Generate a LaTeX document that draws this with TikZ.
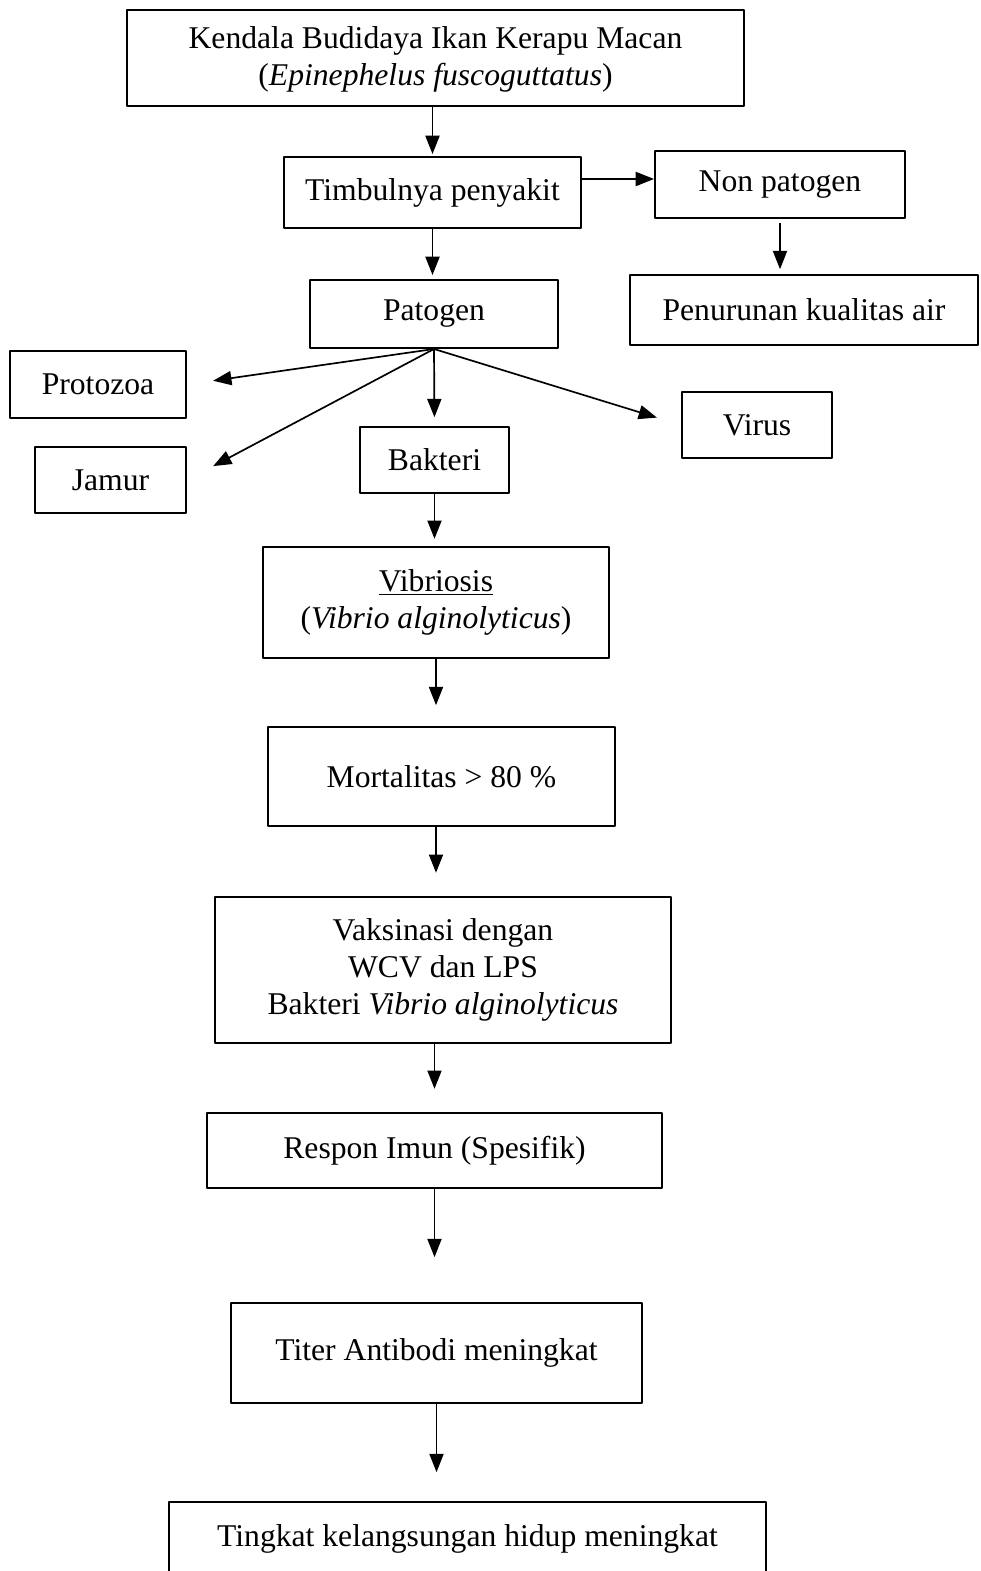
\documentclass[tikz,border=0pt]{standalone}
\usepackage{fontspec}
\setmainfont{Liberation Serif}
\usetikzlibrary{arrows.meta}
\tikzset{box/.style={draw, line width=1.4pt, align=center, inner sep=0pt}}
\begin{document}
\begin{tikzpicture}[x=0.025cm, y=-0.025cm, font=\fontsize{22.5}{26.5}\selectfont, line join=round, >={Triangle[length=13pt,width=10pt]}]
\useasboundingbox (0,0) rectangle (980,1571);
\node[box, minimum width=15.425cm, minimum height=2.4cm, text depth=0.1cm] (kendala) at (435.5,58) {Kendala Budidaya Ikan Kerapu Macan\\(\textit{Epinephelus fuscoguttatus})};
\node[box, minimum width=7.425cm, minimum height=1.775cm] (timbul) at (432.5,192.5) {Timbulnya penyakit};
\node[box, minimum width=6.25cm, minimum height=1.675cm] (nonpat) at (780,184.5) {Non patogen};
\node[box, minimum width=6.2cm, minimum height=1.7cm] (patogen) at (434,314) {Patogen};
\node[box, minimum width=8.675cm, minimum height=1.75cm] (penurunan) at (804,310) {Penurunan kualitas air};
\node[box, minimum width=4.4cm, minimum height=1.675cm] (protozoa) at (98,384.5) {Protozoa};
\node[box, minimum width=3.775cm, minimum height=1.65cm] (jamur) at (110.5,480) {Jamur};
\node[box, minimum width=3.725cm, minimum height=1.65cm] (bakteri) at (434.5,460) {Bakteri};
\node[box, minimum width=3.75cm, minimum height=1.65cm] (virus) at (757,425) {Virus};
\node[box, minimum width=8.65cm, minimum height=2.775cm] (vibriosis) at (436,602.5) {\underline{Vibriosis}\\(\textit{Vibrio alginolyticus})};
\node[box, minimum width=8.675cm, minimum height=2.475cm] (mortal) at (441.5,776.5) {Mortalitas > 80 \%};
\node[box, minimum width=11.4cm, minimum height=3.65cm] (vaksin) at (443,970) {Vaksinasi dengan\\WCV dan LPS\\Bakteri \textit{Vibrio alginolyticus}};
\node[box, minimum width=11.375cm, minimum height=1.875cm] (respon) at (434.5,1150.5) {Respon Imun (Spesifik)};
\node[box, minimum width=10.275cm, minimum height=2.5cm] (titer) at (436.5,1353) {Titer Antibodi meningkat};
\node[box, minimum width=14.925cm, text height=1.1cm, text depth=0.9cm, anchor=north] (tingkat) at (467.5,1501) {Tingkat kelangsungan hidup meningkat};
% arrows
\draw[->, line width=1.2pt, shorten >=0.05cm] (kendala.south -| timbul.north) -- (timbul.north);
\draw[->, line width=1.2pt, shorten >=0.1cm] (timbul.south) -- (timbul.south |- patogen.north);
\draw[->, line width=1.2pt] (timbul.east |- 0,179) -- (nonpat.west |- 0,179);
\draw[->, line width=1.2pt, shorten <=0.1cm, shorten >=0.12cm] (nonpat.south) -- (nonpat.south |- penurunan.north);
\draw[->, line width=1.2pt, shorten >=0.66cm] (patogen.south) -- (protozoa.east);
\draw[->, line width=1.2pt, shorten >=0.74cm] (patogen.south) -- (jamur.east);
\draw[->, line width=1.2pt, shorten >=0.22cm] (patogen.south) -- (bakteri.north);
\draw[->, line width=1.2pt, shorten >=0.63cm] (patogen.south) -- (virus.west);
\draw[->, line width=1.2pt, shorten >=0.18cm] (bakteri.south) -- (bakteri.south |- vibriosis.north);
\draw[->, line width=1.2pt, shorten >=0.52cm] (vibriosis.south) -- (vibriosis.south |- mortal.north);
\draw[->, line width=1.2pt, shorten >=0.58cm] (vibriosis.south |- mortal.south) -- (vibriosis.south |- vaksin.north);
\draw[->, line width=1.2pt, shorten >=0.58cm] (respon.north |- vaksin.south) -- (respon.north);
\draw[->, line width=1.2pt, shorten >=1.12cm] (respon.south) -- (respon.south |- titer.north);
\draw[->, line width=1.2pt, shorten >=0.72cm] (titer.south) -- (titer.south |- tingkat.north);
\end{tikzpicture}
\end{document}
